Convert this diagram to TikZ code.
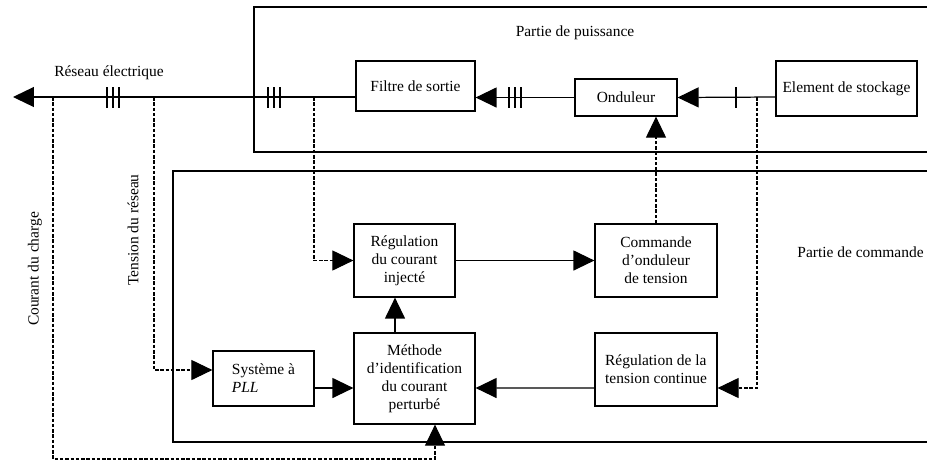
\documentclass[tikz,border=0pt]{standalone}
\usepackage{fontspec}
\setmainfont{Liberation Serif}
\usetikzlibrary{arrows.meta}

\begin{document}
\begin{tikzpicture}[x=0.02cm, y=-0.02cm, line width=0.7pt,
	font=\fontsize{8.8}{10.2}\selectfont,
	bloc/.style={draw, inner sep=1pt, align=center},
	fleche/.style={-{Triangle[length=0.42cm,width=0.4cm]}},
	mesure/.style={line width=0.6pt, dash pattern=on 2pt off 1pt}]
	\useasboundingbox (0,0) rectangle (927,461);

	% cadres
	\draw (940,7) -| (254,152) -- (940,152);
	\draw (940,171) -| (173,442) -- (940,442);
	\node (puiss) at (575,33) {Partie de puissance};
	\node[anchor=east, inner sep=1pt] (comm) at (926,252) {Partie de commande};

	% blocs
	\node[bloc, minimum width=2.38cm, minimum height=1.0cm] (filtre) at (415.5,86) {Filtre de sortie};
	\node[bloc, minimum width=2.04cm, minimum height=0.74cm] (onduleur) at (626,97.5) {Onduleur};
	\node[bloc, minimum width=2.82cm, minimum height=1.1cm] (stockage) at (846.5,88.5) {Element de stockage};
	\node[bloc, minimum width=2.02cm, minimum height=1.46cm] (regcour) at (404.5,260.5) {Régulation\\du courant\\injecté};
	\node[bloc, minimum width=2.44cm, minimum height=1.46cm] (commande) at (656,260.5) {Commande\\d'onduleur\\de tension};
	\node[bloc, minimum width=2.02cm, minimum height=1.1cm, align=left] (pll) at (263.5,378.5) {Système à\\\textit{PLL}};
	\node[bloc, minimum width=2.42cm, minimum height=1.82cm] (methode) at (414.5,378.5) {Méthode\\d'identification\\du courant\\perturbé};
	\node[bloc, minimum width=2.44cm, minimum height=1.46cm, align=left] (regtens) at (656,369.5) {Régulation de la\\tension continue};

	% reseau
	\coordinate (net) at (13,97);
	\coordinate (jc) at (53,97);
	\coordinate (jt) at (154,97);
	\coordinate (jr) at (314,97);
	\coordinate (js) at (757,97);
	\coordinate (bas) at (435,459);
	\node (reseau) at (109,73) {Réseau électrique};
	\node[rotate=90] (tension) at (133,230) {Tension du réseau};
	\node[rotate=90] (courant) at (35,269) {Courant du charge};

	\draw [fleche] (filtre.west |- net) -- (net);
	\draw [fleche] (onduleur.west) -- (filtre.east |- onduleur.west);
	\draw [fleche] (stockage.west |- net) -- (onduleur.east);
	\foreach \x in {107,113,119,268,274,280,509,515,521,736}
		\draw (\x,87) -- (\x,108);

	% mesures
	\draw [mesure, fleche] (jc) |- (bas) -- (bas |- methode.south);
	\draw [mesure, fleche] (jt) |- ([yshift=0.17cm]pll.west);
	\draw [mesure, fleche] (jr) |- (regcour.west);
	\draw [mesure, fleche] (js) |- ([yshift=-0.37cm]regtens.east);
	\draw [mesure, fleche] (commande.north) -- (commande.north |- onduleur.south);

	% commande
	\coordinate (m) at ([xshift=-0.39cm]methode.north);
	\draw [fleche] (m) -- (m |- regcour.south);
	\draw [fleche] (regcour) -- (commande);
	\draw [fleche] ([yshift=-0.19cm]pll.east) -- ([yshift=-0.19cm]methode.west);
	\draw [fleche] ([yshift=-0.37cm]regtens.west) -- ([yshift=-0.19cm]methode.east);
\end{tikzpicture}
\end{document}
